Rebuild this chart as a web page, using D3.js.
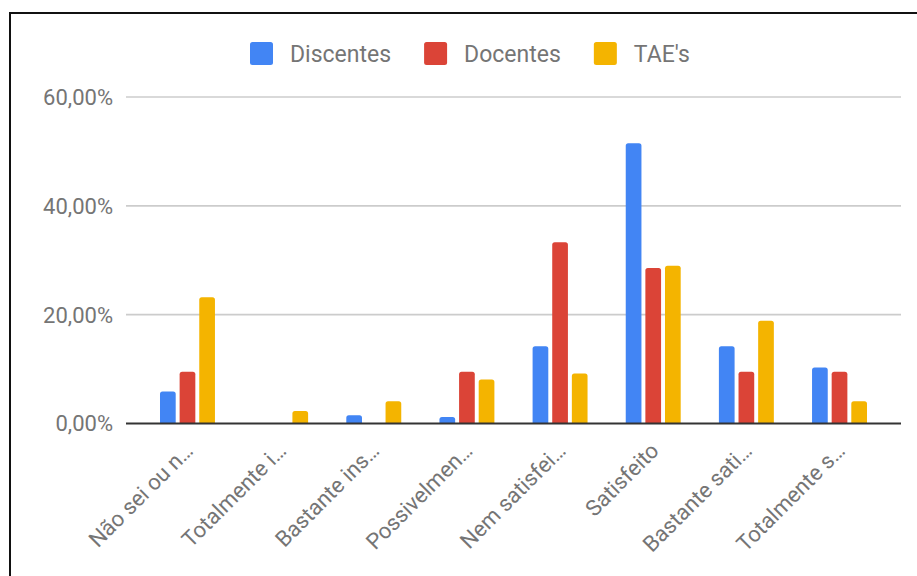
<!DOCTYPE html>
<html>
<head>
<meta charset="utf-8">
<script src="https://cdn.jsdelivr.net/npm/d3@7"></script>
<style>
  html, body { margin: 0; padding: 0; background: #fff; }
  svg { display: block; font-family: Roboto, "Noto Sans", sans-serif; }
</style>
</head>
<body>
<svg id="chart" width="917" height="576"></svg>
<script>
// ---- Data ----
const categories = ["Não sei ou n…", "Totalmente i…", "Bastante ins…", "Possivelmen…",
                    "Nem satisfei…", "Satisfeito", "Bastante sati…", "Totalmente s…"];
const seriesNames = ["Discentes", "Docentes", "TAE's"];
const discentes = [5.9, 0, 1.5, 1.2, 14.2, 51.5, 14.2, 10.3];
const docentes  = [9.52, 0, 0, 9.52, 33.33, 28.57, 9.52, 9.52];
const taes      = [23.2, 2.3, 4.1, 8.1, 9.2, 29.0, 18.9, 4.1];
const yTicks = [0, 20, 40, 60];
const yTickLabels = ["0,00%", "20,00%", "40,00%", "60,00%"];
const colors = ["#4285f4", "#db4437", "#f4b400"];

const seriesValues = [discentes, docentes, taes];

const svg = d3.select("#chart");

// frame border
svg.append("path")
  .attr("d", "M10,580 L10,13 L920,13")
  .attr("fill", "none")
  .attr("stroke", "#111")
  .attr("stroke-width", 2);

const plotLeft = 126, plotRight = 901;
const y = d3.scaleLinear().domain([0, 60]).range([423.5, 97]);

const x0 = d3.scaleBand().domain(categories).range([plotLeft, plotRight])
  .paddingInner(0.41).paddingOuter(0.365);
const x1 = d3.scaleBand().domain(seriesNames).range([0, x0.bandwidth()])
  .paddingInner(0.2).paddingOuter(0);

// gridlines
svg.append("g").selectAll("line")
  .data(yTicks.filter(d => d !== 0))
  .join("line")
  .attr("x1", plotLeft).attr("x2", plotRight)
  .attr("y1", d => y(d)).attr("y2", d => y(d))
  .attr("stroke", "#cccccc").attr("stroke-width", 1.6);

// y labels
svg.append("g").selectAll("text")
  .data(yTicks)
  .join("text")
  .attr("x", 113)
  .attr("y", d => y(d))
  .attr("dy", "0.36em")
  .attr("text-anchor", "end")
  .attr("font-size", 22)
  .attr("fill", "#757575")
  .text((d, i) => yTickLabels[i]);

// bars
function topRounded(x, yTop, w, yBase, r) {
  const h = yBase - yTop;
  if (h <= 0) return "";
  r = Math.min(r, h, w / 2);
  return `M${x},${yBase} L${x},${yTop + r} Q${x},${yTop} ${x + r},${yTop} ` +
         `L${x + w - r},${yTop} Q${x + w},${yTop} ${x + w},${yTop + r} L${x + w},${yBase} Z`;
}

const groups = svg.append("g").selectAll("g")
  .data(categories)
  .join("g")
  .attr("transform", d => `translate(${x0(d)},0)`);

groups.selectAll("path")
  .data((c, ci) => seriesNames.map((s, si) => ({ s, si, v: seriesValues[si][ci] })))
  .join("path")
  .attr("d", d => topRounded(x1(d.s), y(d.v), x1.bandwidth(), y(0), 2.5))
  .attr("fill", d => colors[d.si]);

// baseline
svg.append("line")
  .attr("x1", plotLeft).attr("x2", plotRight)
  .attr("y1", y(0)).attr("y2", y(0))
  .attr("stroke", "#333").attr("stroke-width", 2);

// x labels
svg.append("g").selectAll("text")
  .data(categories)
  .join("text")
  .attr("text-anchor", "end")
  .attr("font-size", 22)
  .attr("fill", "#757575")
  .attr("transform", d => `translate(${x0(d) + x0.bandwidth() / 2 + 7},452) rotate(-45)`)
  .text(d => d);

// legend
const legend = svg.append("g");
let lx = 250;
seriesNames.forEach((name, i) => {
  legend.append("rect")
    .attr("x", lx).attr("y", 42)
    .attr("width", 23).attr("height", 23)
    .attr("rx", 2.5)
    .attr("fill", colors[i]);
  const t = legend.append("text")
    .attr("x", lx + 40).attr("y", 61.5)
    .attr("font-size", 23)
    .attr("fill", "#757575")
    .text(name);
  lx += 40 + t.node().getComputedTextLength() + 33;
});
</script>
</body>
</html>
